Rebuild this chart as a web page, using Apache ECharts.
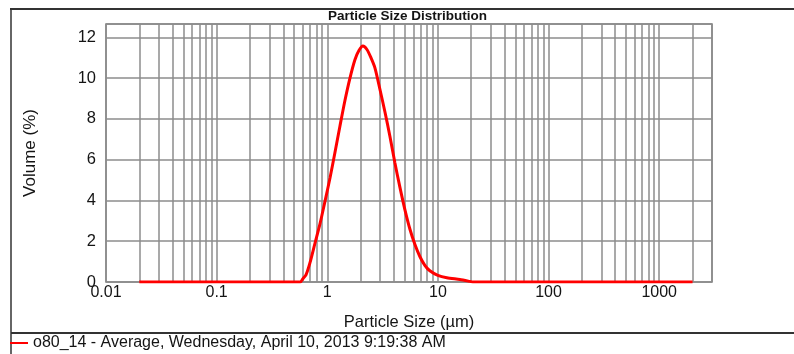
<!DOCTYPE html>
<html>
<head>
<meta charset="utf-8">
<title>Particle Size Distribution</title>
<script src="https://cdn.jsdelivr.net/npm/echarts@6/dist/echarts.min.js"></script>
<style>
  html, body { margin: 0; padding: 0; background: #ffffff; }
  #chart { width: 794px; height: 354px; }
</style>
</head>
<body>
<div id="chart"></div>
<script>
// Particle sizes (µm) and the measured volume fraction (%) at each size
const sizes = [0.02, 0.1, 0.5, 0.57, 0.60, 0.642, 0.698, 0.774, 0.859, 0.953, 1.058,
  1.173, 1.302, 1.444, 1.603, 1.778, 1.932, 2.10, 2.282, 2.48, 2.695, 2.99, 3.317,
  3.681, 4.083, 4.531, 5.027, 5.577, 6.187, 6.865, 7.616, 8.451, 9.98, 12.03, 15.77,
  19.41, 20.65, 100, 1000, 2000];
const volume = [0, 0, 0, 0, 0.15, 0.35, 0.95, 1.9, 2.85, 3.95, 5.1,
  6.35, 7.65, 8.9, 10.0, 10.9, 11.35, 11.57, 11.4, 11.0, 10.5, 9.45, 8.35,
  7.15, 5.85, 4.65, 3.55, 2.6, 1.85, 1.25, 0.82, 0.55, 0.33, 0.21, 0.12,
  0.03, 0, 0, 0, 0];

// Intermediate log grid lines between the decades
const minorGrid = [0.02, 0.03, 0.04, 0.05, 0.06, 0.07, 0.08, 0.09,
  0.2, 0.3, 0.4, 0.5, 0.6, 0.7, 0.8, 0.9,
  2, 3, 4, 5, 6, 7, 8, 9,
  20, 30, 40, 50, 60, 70, 80, 90,
  200, 300, 400, 500, 600, 700, 800, 900, 2000];

const seriesName = 'o80_14 - Average, Wednesday, April 10, 2013 9:19:38 AM';
const FONT = "'Liberation Sans', Arial, sans-serif";
const INK = '#141414';
const GRID = '#8c8c8c';
const FRAME = '#333333';

const chart = echarts.init(document.getElementById('chart'), null, { renderer: 'canvas' });

chart.setOption({
  animation: false,
  backgroundColor: '#ffffff',
  textStyle: { fontFamily: FONT },
  title: {
    text: 'Particle Size Distribution',
    left: 328,
    top: 9,
    padding: 0,
    textStyle: { fontFamily: FONT, fontSize: 13.5, fontWeight: 'bold', color: INK }
  },
  legend: {
    data: [seriesName],
    left: 10,
    top: 335,
    padding: 0,
    icon: 'rect',
    itemWidth: 18,
    itemHeight: 2,
    textStyle: { fontFamily: FONT, fontSize: 16, color: INK }
  },
  grid: {
    left: 106, right: 82, top: 24, bottom: 72,
    show: true, borderColor: '#7a7a7a', borderWidth: 1.5,
    containLabel: false
  },
  xAxis: {
    type: 'log',
    logBase: 10,
    min: 0.01,
    max: 3000,
    name: 'Particle Size (µm)',
    nameLocation: 'middle',
    nameGap: 32,
    nameTextStyle: { fontFamily: FONT, fontSize: 16.5, color: INK },
    axisLine: { show: false },
    axisTick: { show: false },
    axisLabel: {
      margin: 3, fontSize: 16, color: INK, fontFamily: FONT,
      showMaxLabel: false,
      formatter: v => String(+Number(v).toPrecision(6))
    },
    splitLine: { show: true, lineStyle: { color: GRID, width: 1.5 } }
  },
  yAxis: {
    type: 'value',
    min: 0,
    max: 12.65,
    interval: 2,
    name: 'Volume (%)',
    nameLocation: 'middle',
    nameGap: 67,
    nameTextStyle: { fontFamily: FONT, fontSize: 17, color: INK },
    axisLine: { show: false },
    axisTick: { show: false },
    axisLabel: {
      margin: 10, fontSize: 16.5, color: INK, fontFamily: FONT,
      showMaxLabel: false,
      formatter: v => (Math.abs(v - Math.round(v)) < 1e-6 ? String(Math.round(v)) : '')
    },
    splitLine: { show: true, lineStyle: { color: GRID, width: 1.5 } }
  },
  series: [
    {
      name: 'grid',
      type: 'line',
      data: [],
      z: 1,
      silent: true,
      markLine: {
        silent: true,
        symbol: ['none', 'none'],
        label: { show: false },
        lineStyle: { color: GRID, width: 1.5, type: 'solid' },
        emphasis: { disabled: true },
        data: minorGrid.map(v => ({ xAxis: v }))
      }
    },
    {
      name: seriesName,
      type: 'line',
      z: 5,
      data: sizes.map((s, i) => [s, volume[i]]),
      showSymbol: false,
      symbol: 'none',
      smooth: 0.25,
      color: '#ff0000',
      lineStyle: { color: '#ff0000', width: 3 }
    }
  ],
  graphic: [
    { type: 'line', silent: true, shape: { x1: 10, y1: 9, x2: 794, y2: 9 },
      style: { stroke: FRAME, lineWidth: 2 } },
    { type: 'line', silent: true, shape: { x1: 11, y1: 8, x2: 11, y2: 354 },
      style: { stroke: FRAME, lineWidth: 1.5 } },
    { type: 'line', silent: true, shape: { x1: 11, y1: 333, x2: 794, y2: 333 },
      style: { stroke: FRAME, lineWidth: 2 } }
  ]
});
</script>
</body>
</html>
